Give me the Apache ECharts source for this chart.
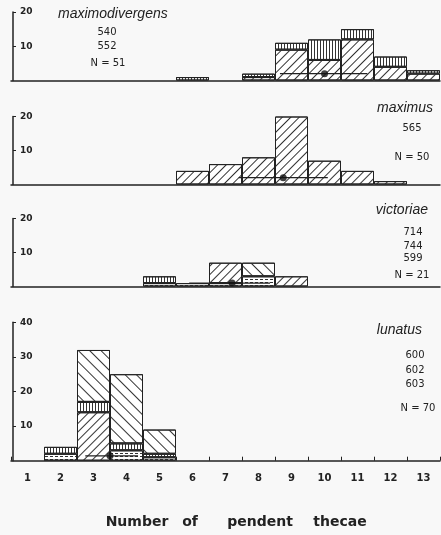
<!DOCTYPE html>
<html>
<head>
<meta charset="utf-8">
<script src="https://cdn.jsdelivr.net/npm/echarts@6/dist/echarts.min.js"></script>
<style>
    html, body { margin: 0; padding: 0; background: #f8f8f8; }
    #chart { width: 441px; height: 535px; }
</style>
</head>
<body>
<div id="chart"></div>
<script>
    // bins (number of pendent thecae)
    var bins = ['1','2','3','4','5','6','7','8','9','10','11','12','13'];

    // maximodivergens 540, 552  N=51
    var maxdivDiag = [0,0,0,0,0,0,0,1,9,6,12,4,2];
    var maxdivVert = [0,0,0,0,0,1,0,1,2,6,3,3,1];

    // maximus 565  N=50
    var maximusDiag = [0,0,0,0,0,4,6,8,20,7,4,1,0];

    // victoriae 714, 744, 599  N=21
    var victDash = [0,0,0,0,1,1,1,3,0,0,0,0,0];
    var victVert = [0,0,0,0,2,0,0,0,0,0,0,0,0];
    var victDiag = [0,0,0,0,0,0,6,0,3,0,0,0,0];
    var victBack = [0,0,0,0,0,0,0,4,0,0,0,0,0];

    // lunatus 600, 602, 603  N=70
    var lunDiag = [0,0,14,0,0,0,0,0,0,0,0,0,0];
    var lunDash = [0,2,0,3,1,0,0,0,0,0,0,0,0];
    var lunVert = [0,2,3,2,1,0,0,0,0,0,0,0,0];
    var lunBack = [0,0,15,20,7,0,0,0,0,0,0,0,0];

    // mean (dot), range (line) and height of the marker, per panel
    var meanVals = [10.0, 8.75, 7.2, 3.5];
    var rangeLo = [8.65, 7.4, 5.9, 2.75];
    var rangeHi = [11.3, 10.1, 8.35, 4.35];
    var markY = [2, 2, 1, 1.4];
    var yMax = [20, 20, 20, 40];

    var ink = '#222';

    function hatch(kind) {
        var d = {symbol: 'rect', symbolSize: 1, color: '#333', backgroundColor: 'rgba(0,0,0,0)'};
        if (kind == 'diag') { d.dashArrayX = [1, 0]; d.dashArrayY = [1, 5]; d.rotation = -Math.PI / 4; }
        if (kind == 'back') { d.dashArrayX = [1, 0]; d.dashArrayY = [1, 7]; d.rotation = Math.PI / 4; }
        if (kind == 'vert') { d.dashArrayX = [1, 0]; d.dashArrayY = [1, 2]; d.rotation = Math.PI / 2; }
        if (kind == 'dash') { d.dashArrayX = [3, 2]; d.dashArrayY = [1, 2]; d.rotation = 0; }
        return d;
    }

    function barSeries(panel, values, kind) {
        return {
            type: 'bar',
            xAxisIndex: panel,
            yAxisIndex: panel,
            stack: 'p' + panel,
            barWidth: '100%',
            barGap: 0,
            data: values.map(function (v) { return v > 0 ? v : '-'; }),
            itemStyle: {color: '#fff', borderColor: ink, borderWidth: 1, decal: hatch(kind)},
            emphasis: {disabled: true},
            silent: true
        };
    }

    var grids = [
        {left: 11, width: 429, top: 12, height: 68.5},
        {left: 11, width: 429, top: 116.5, height: 68},
        {left: 11, width: 429, top: 218.5, height: 68},
        {left: 11, width: 429, top: 322.3, height: 138.4}
    ];

    var xAxes = [], yAxes = [], series = [];
    for (var i = 0; i < 4; i++) {
        xAxes.push({
            type: 'category', gridIndex: i, data: bins,
            axisLine: {show: true, lineStyle: {color: ink, width: 1.5}},
            axisTick: {show: i == 3, inside: true, length: 4, interval: 0, lineStyle: {color: ink}},
            axisLabel: {show: i == 3, interval: 0, margin: 13, fontSize: 10, fontFamily: 'DejaVu Sans', color: ink, fontWeight: 'bold'},
            splitLine: {show: false}
        });
        yAxes.push({
            type: 'value', gridIndex: i, min: 0, max: yMax[i], interval: 10, offset: -2,
            axisLine: {show: true, lineStyle: {color: ink, width: 1.5}},
            axisTick: {show: true, inside: true, length: 3, lineStyle: {color: ink}},
            axisLabel: {inside: true, margin: 7, showMinLabel: false, fontSize: 9, fontFamily: 'DejaVu Sans', color: ink, fontWeight: 'bold'},
            splitLine: {show: false}
        });
    }
    for (var j = 0; j < 4; j++) {
        xAxes.push({type: 'value', gridIndex: j, min: 0.5, max: 13.5, show: false});
    }

    series.push(barSeries(0, maxdivDiag, 'diag'));
    series.push(barSeries(0, maxdivVert, 'vert'));
    series.push(barSeries(1, maximusDiag, 'diag'));
    series.push(barSeries(2, victDash, 'dash'));
    series.push(barSeries(2, victVert, 'vert'));
    series.push(barSeries(2, victDiag, 'diag'));
    series.push(barSeries(2, victBack, 'back'));
    series.push(barSeries(3, lunDiag, 'diag'));
    series.push(barSeries(3, lunDash, 'dash'));
    series.push(barSeries(3, lunVert, 'vert'));
    series.push(barSeries(3, lunBack, 'back'));

    for (var k = 0; k < 4; k++) {
        series.push({
            type: 'line', xAxisIndex: 4 + k, yAxisIndex: k, z: 5,
            data: [[rangeLo[k], markY[k]], [rangeHi[k], markY[k]]],
            symbol: 'none', lineStyle: {color: ink, width: 1.2}, silent: true
        });
        series.push({
            type: 'scatter', xAxisIndex: 4 + k, yAxisIndex: k, z: 6,
            data: [[meanVals[k], markY[k]]],
            symbolSize: 7, itemStyle: {color: '#111'}, silent: true
        });
    }

    function txt(s, x, y, font, align) {
        return {type: 'text', x: x, y: y, silent: true,
            style: {text: s, font: font, fill: ink, align: align || 'center', verticalAlign: 'middle'}};
    }
    var sp = 'italic 14px "Liberation Sans"';
    var num = '10px "DejaVu Sans"';
    var ttl = 'bold 14px "DejaVu Sans"';

    var graphics = [
        txt('maximodivergens', 58, 14, sp, 'left'),
        txt('540', 107, 32, num), txt('552', 107, 46.5, num), txt('N = 51', 108, 63, num),
        txt('maximus', 433, 108.5, sp, 'right'),
        txt('565', 412, 128.5, num), txt('N = 50', 412, 157.5, num),
        txt('victoriae', 428, 210, sp, 'right'),
        txt('714', 413, 232.5, num), txt('744', 413, 246, num), txt('599', 413, 258.5, num), txt('N = 21', 412, 275, num),
        txt('lunatus', 422, 330.5, sp, 'right'),
        txt('600', 415, 355, num), txt('602', 415, 370, num), txt('603', 415, 384.5, num), txt('N = 70', 418, 408.5, num),
        txt('Number', 137, 522, ttl), txt('of', 190, 522, ttl), txt('pendent', 260, 522, ttl), txt('thecae', 340, 522, ttl)
    ];

    var myChart = echarts.init(document.getElementById('chart'), null, {renderer: 'canvas'});
    myChart.setOption({
        backgroundColor: '#f8f8f8',
        animation: false,
        grid: grids,
        xAxis: xAxes,
        yAxis: yAxes,
        series: series,
        graphic: graphics
    });
</script>
</body>
</html>
